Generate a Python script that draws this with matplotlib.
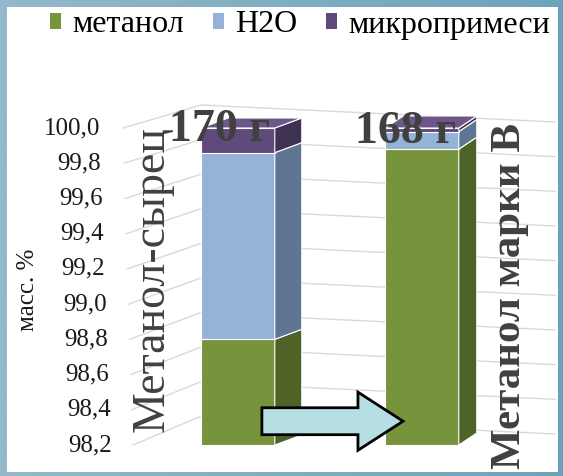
import numpy as np
import matplotlib
matplotlib.use("Agg")
import matplotlib.pyplot as plt
from matplotlib.patches import Polygon, Rectangle, Patch, FancyArrow
from matplotlib.transforms import IdentityTransform

plt.rcParams["font.family"] = ["Liberation Serif", "DejaVu Serif"]

# --- data ---
categories = ["Метанол-сырец", "Метанол марки В"]
masses = ["170 г", "168 г"]
series = ["метанол", "H2O", "микропримеси"]
methanol = [98.80, 99.88]
water = [1.06, 0.10]
impurities = [0.14, 0.02]
yticks = [98.2, 98.4, 98.6, 98.8, 99.0, 99.2, 99.4, 99.6, 99.8, 100.0]
ytick_labels = ["98,2", "98,4", "98,6", "98,8", "99,0",
                "99,2", "99,4", "99,6", "99,8", "100,0"]

front_cols = ["#77933c", "#95b3d7", "#604a7b"]
side_cols = ["#4f6228", "#5f7693", "#3f3151"]
top_cols = ["#88a64a", "#a8c2e0", "#6c568a"]
depth = [(27, 10), (18, 12)]  # pixel offset of the bar back faces

W, H = 563, 476
fig = plt.figure(figsize=(W / 100, H / 100), dpi=100)

# blue-grey frame with a soft gradient and white inner panel
bg = fig.add_axes([0, 0, 1, 1])
grad = np.linspace(0, 1, 256)[None, :]
cmap = matplotlib.colors.LinearSegmentedColormap.from_list("fr", ["#93b9ca", "#6da3ba"])
bg.imshow(grad, aspect="auto", cmap=cmap, extent=[0, 1, 0, 1])
bg.add_patch(Rectangle((7 / W, 1 - 472 / H), 551 / W, 465 / H, fc="white", ec="none"))
bg.set_xlim(0, 1)
bg.set_ylim(0, 1)
bg.axis("off")

# main axes: front plane of the 3D plot
ax = fig.add_axes([123 / W, (H - 445) / H, 432 / W, 317 / H])
ax.set_xlim(-0.625, 1.723)
ax.set_ylim(98.2, 100.0)
ax.axis("off")
ax.patch.set_alpha(0)

ident = IdentityTransform()


def disp(x, y):
    return ax.transData.transform((x, y))


# gridlines: side wall + back wall
for k, v in enumerate(yticks):
    frac = (100.0 - v) / 1.8
    fx, fy = disp(-0.625, v)
    fx += 10 * frac
    bx = fx + 78 - 12 * frac
    by = fy + 23 + 5 * frac
    rx, ry = 555, by - 17
    ax.add_line(plt.Line2D([fx, bx, rx], [fy, by, ry], transform=ident,
                           color="#d9d9d9", lw=1.0, zorder=1, clip_on=False))
    ax.annotate(ytick_labels[k], xy=(-0.625, v), xytext=(-23 + 12 * frac, 0),
                textcoords="offset pixels", ha="right", va="center",
                fontsize=18, color="#1a1a1a", annotation_clip=False)

# stacked pseudo-3D bars
bw = 0.40
for i in range(len(categories)):
    dx, dy = depth[i]
    bottom = yticks[0]
    tops = [methanol[i], methanol[i] + water[i], methanol[i] + water[i] + impurities[i]]
    for j in range(3):
        top = min(tops[j], 100.0)
        x0, y0 = disp(i - bw / 2, bottom)
        x1, y1 = disp(i + bw / 2, top)
        faces = [
            ([(x0, y0), (x1, y0), (x1, y1), (x0, y1)], front_cols[j]),
            ([(x1, y0), (x1 + dx, y0 + dy), (x1 + dx, y1 + dy), (x1, y1)], side_cols[j]),
        ]
        if j == 2:
            faces.append(([(x0, y1), (x1, y1), (x1 + dx, y1 + dy), (x0 + dx, y1 + dy)],
                          top_cols[j]))
        for pts, col in faces:
            ax.add_patch(Polygon(pts, closed=True, transform=ident, fc=col, ec="white",
                                 lw=0.8, zorder=3, clip_on=False))
        bottom = top

# arrow between the bars
ax.add_patch(FancyArrow(0.13, 98.335, 0.767, 0, width=0.153, head_width=0.33,
                        head_length=0.245, length_includes_head=True,
                        fc="#b7dfe3", ec="black", lw=2, zorder=5, clip_on=False))

# mass labels
ax.text(0 - 0.1, 99.99, masses[0], ha="center", va="center", fontsize=33,
        fontweight="bold", color="#404040", zorder=6)
ax.text(0.91, 99.98, masses[1], ha="center", va="center", fontsize=33,
        fontweight="bold", color="#404040", zorder=6)

# category labels (rotated)
fig.text(152 / W, 1 - 279 / H, categories[0], rotation=90, ha="center", va="center",
         fontsize=33, color="#404040")
fig.text(510 / W, 1 - 296 / H, categories[1], rotation=90, ha="center", va="center",
         fontsize=31, fontweight="bold", color="#404040")

# y axis title
fig.text(28 / W, 1 - 290 / H, "масс. %", rotation=90, ha="center", va="center",
         fontsize=18, color="#1a1a1a")

handles = [Patch(fc=c, ec="none") for c in front_cols]
fig.legend(handles, series, loc="center", bbox_to_anchor=(300 / W, 1 - 25 / H),
           ncol=3, frameon=False, fontsize=23, handlelength=0.35, handleheight=0.35,
           handletextpad=0.35, columnspacing=0.9, borderpad=0)

fig.savefig("out.png", dpi=100)
